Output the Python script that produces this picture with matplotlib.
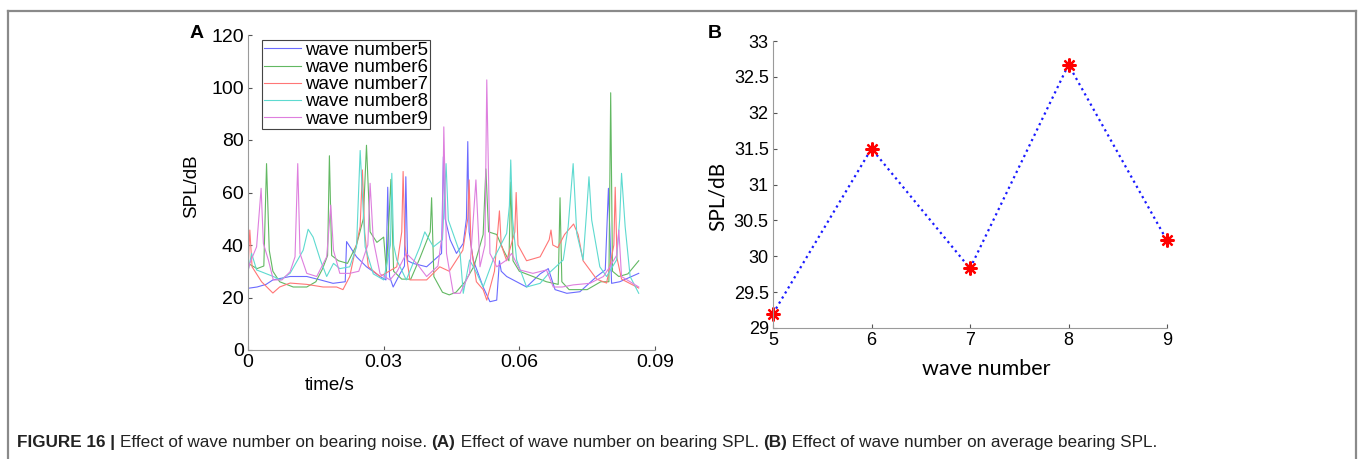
import numpy as np
import matplotlib
matplotlib.use('Agg')
import matplotlib.pyplot as plt
from matplotlib.lines import Line2D

plt.rcParams['font.family'] = ['Liberation Sans', 'DejaVu Sans']

# panel A: SPL over time for each wave number (time in ms, SPL in dB)
t5 = [0, 2, 4, 5.5, 9.3, 13, 16, 18.8, 21.5, 21.8, 24, 26.2, 29.2, 30.5, 30.9, 31.3, 32.1, 33.6, 34.6, 34.9,
      35.3, 36.5, 39.5, 42.8, 43.2, 43.6, 44.7, 46.1, 47.6, 48.3, 48.6, 48.9, 49.8, 52, 53.5, 55, 55.6, 56, 57.2,
      61.6, 64.6, 66.4, 67.9, 70.5, 73.4, 77.1, 79, 79.7, 80.4, 82.2, 86.4]
y5 = [23.5, 24, 25, 26.7, 28, 28, 26.7, 25.4, 26, 41.3, 35.5, 31.7, 28, 26.7, 62, 28, 24, 29, 32, 66,
      34, 33, 31.7, 36.8, 73.6, 50, 42, 36.8, 40.6, 50, 79.4, 45, 34.3, 24, 18.4, 19, 34, 30, 28,
      24, 29, 31, 23, 21.6, 22.2, 28, 30.5, 61.6, 25.4, 26, 29.2]

t6 = [0, 2, 3.5, 4.1, 4.7, 5.5, 7, 10, 13, 15, 16.5, 17.6, 18.0, 18.5, 20, 22, 24, 25.5, 26.2, 27.0,
      28.5, 30, 30.6, 31.6, 32.2, 34, 36, 38, 40.3, 40.6, 41.1, 43, 44.5, 46, 48, 50, 52, 52.6, 53.2, 55,
      56.5, 57.7, 58.1, 58.6, 60, 63, 66, 68.6, 69.0, 69.4, 71, 75, 78, 79.8, 80.2, 80.6, 82, 84, 86.4]
y6 = [33, 31, 32, 71, 38, 30, 26, 24, 24, 26, 31, 36, 74, 36, 34, 33, 40, 50, 78, 45,
      41, 43, 30, 65, 30, 27, 27, 35, 45, 58, 28, 22, 21, 22, 26, 32, 44, 69, 45, 44,
      38, 34, 64, 34, 30, 28, 26, 25, 58, 26, 23, 23, 26, 26, 98, 30, 28, 29, 34]

t7 = [0, 0.4, 0.9, 3, 5.5, 7, 9.3, 13, 16.6, 19.6, 21, 22.5, 24.8, 25.3, 25.8, 26.6, 29.2, 32.9, 34.0, 34.3,
      34.7, 35.8, 39.5, 42.4, 44.5, 47.5, 48.6, 48.9, 49.3, 50.5, 52, 52.8, 54.5, 55.6, 56, 57.2, 59.0, 59.3,
      59.7, 61.6, 64.6, 66.6, 67.0, 67.4, 68.5, 70, 72, 73, 74.1, 77.1, 79.3, 80.9, 81.2, 81.6, 82.6, 86.4]
y7 = [30, 45.7, 31.7, 26, 21.7, 24, 25.5, 25, 24, 24, 23, 28, 47, 68.6, 45, 31.7, 28, 31.7, 45, 68,
      40, 26.7, 26.7, 31.7, 30, 38, 50, 64.8, 40, 26, 23, 19, 30, 53, 40, 34, 45, 60,
      40, 34, 35.5, 42, 45.7, 40, 39, 44, 48, 44, 34, 27, 25.5, 40, 62, 35, 27, 23.6]

t8 = [0, 0.8, 1.9, 5.6, 7.1, 9.3, 12.2, 13.3, 14.4, 16, 17.4, 18.9, 20.3, 22.5, 24, 24.8, 25.9, 27.7, 30, 31.5,
      31.8, 32.2, 32.9, 35, 38, 39.1, 41, 43.0, 43.8, 44.3, 46.9, 47.6, 49, 50.6, 52, 54.2, 57.2, 57.8, 58.1, 58.5,
      59.4, 61.6, 64.6, 66.5, 69.7, 70.8, 71.9, 72.7, 74.1, 74.9, 75.4, 76, 77.8, 79.3, 81.5, 82.2, 82.6, 83.4,
      84.5, 86.4]
y8 = [30, 36.8, 30.5, 28, 26.7, 29.2, 38, 46, 43, 34.3, 28, 33, 31, 31.7, 39.3, 76, 39.3, 29, 26.7, 40,
      67.3, 40, 34.3, 26.7, 39.3, 45, 39.3, 42, 71, 49.5, 36.8, 21.6, 34.3, 29.2, 24, 34.3, 44.4, 55, 72.4, 50,
      34.3, 24, 25.4, 29.2, 34.3, 47, 71, 44.4, 34.3, 53.3, 66, 49.5, 31.7, 28, 34.3, 50, 67.3, 47,
      28, 21.6]

t9 = [0, 0.4, 1.9, 2.9, 3.4, 4.5, 5.6, 7.5, 9.3, 10.4, 11.0, 11.5, 13, 15.2, 17.4, 18.3, 18.9, 20.3, 22.5, 24.5,
      26.5, 27.0, 27.7, 29.2, 31.4, 33, 35, 37.3, 39.5, 42, 43.0, 43.3, 43.9, 45.4, 46.9, 49, 50.4, 51.3, 52.4,
      52.8, 53.5, 55, 57.2, 58.3, 60.1, 63, 66, 67.5, 69.5, 71.9, 75.6, 78.6, 80, 81.5, 82.0, 82.6, 86.4]
y9 = [30, 33, 39.3, 61.6, 40.6, 34.3, 26.7, 26.7, 29.8, 35.5, 71, 36.8, 29.2, 28, 35.5, 55.2, 38, 29.2, 29.2, 30,
      40, 63.5, 42, 29, 26.7, 30, 36.8, 33, 28, 32, 45, 85, 36.8, 21.6, 21.6, 29.2, 64.8, 31.7, 40,
      102.9, 36.8, 31.7, 34.3, 36.8, 30.5, 29.2, 30.5, 24, 24, 24.8, 25.4, 28, 31.7, 36, 45.7, 28, 24]

labels_a = ['wave number5', 'wave number6', 'wave number7', 'wave number8', 'wave number9']
colors_a = ['#6b6bff', '#62b862', '#ff7676', '#5edad0', '#de7fde']

# panel B: average SPL
wave_num = [5, 6, 7, 8, 9]
avg_spl = [29.2, 31.5, 29.83, 32.67, 30.22]

fig = plt.figure(figsize=(13.65, 4.59), dpi=100)
W, H = 1365, 459

def ax_rect(x0, y0, x1, y1):
    return [x0 / W, 1 - y1 / H, (x1 - x0) / W, (y1 - y0) / H]

gray = '#9a9a9a'

# ---- panel A
ax1 = fig.add_axes(ax_rect(248, 35, 655, 350))
series = [(t5, y5), (t6, y6), (t7, y7), (t8, y8), (t9, y9)]
for (t, y), lab, c in zip(series, labels_a, colors_a):
    ax1.plot(np.array(t) / 1000, y, color=c, lw=0.8, label=lab)
ax1.set_xlim(0, 0.09)
ax1.set_ylim(0, 120)
ax1.set_xticks([0, 0.03, 0.06, 0.09])
ax1.set_xticklabels(['0', '0.03', '0.06', '0.09'])
ax1.set_yticks(range(0, 121, 20))
for s in ['top', 'right']:
    ax1.spines[s].set_visible(False)
for s in ['left', 'bottom']:
    ax1.spines[s].set_color(gray)
ax1.tick_params(direction='in', length=3, color='#555555', labelsize=14, pad=3)
ax1.set_ylabel('SPL/dB', fontsize=13.5)
ax1.yaxis.set_label_coords(-0.118, 0.52)
ax1.set_xlabel('time/s', fontsize=13.5)
ax1.xaxis.set_label_coords(0.2, -0.085)
leg = ax1.legend(loc='upper left', bbox_to_anchor=(0.034, 0.984), borderaxespad=0,
                 fontsize=13.5, fancybox=False, framealpha=1, edgecolor='#444444',
                 labelspacing=0.0, handlelength=2.0, handletextpad=0.2, borderpad=0.1)
leg.get_frame().set_linewidth(0.8)
fig.text(197 / W, 1 - 33 / H, 'A', fontsize=14, fontweight='bold', ha='center', va='center')

# ---- panel B
ax2 = fig.add_axes(ax_rect(773, 41, 1167, 328))
ax2.plot(wave_num, avg_spl, color='#1a1aff', ls=':', lw=1.6,
         marker=(8, 2, 0), markersize=10, markeredgecolor='red', markeredgewidth=1.6, clip_on=False)
ax2.set_xlim(5, 9)
ax2.set_ylim(29, 33)
ax2.set_xticks(wave_num)
ytk = np.arange(29, 33.01, 0.5)
ax2.set_yticks(ytk)
ax2.set_yticklabels(['%g' % v for v in ytk])
for s in ['top', 'right']:
    ax2.spines[s].set_visible(False)
for s in ['left', 'bottom']:
    ax2.spines[s].set_color(gray)
ax2.tick_params(direction='in', length=3, color='#555555', labelsize=13, pad=3)
ax2.set_xlabel('wave number', fontsize=15.5, family=['Lato', 'DejaVu Sans'])
ax2.xaxis.set_label_coords(0.54, -0.108)
ax2.set_ylabel('SPL/dB', fontsize=15, family=['Lato', 'DejaVu Sans'])
ax2.yaxis.set_label_coords(-0.114, 0.46)
fig.text(715 / W, 1 - 33 / H, 'B', fontsize=14, fontweight='bold', ha='center', va='center')

# ---- frame around figure (no bottom edge)
bc = '#8a8a8a'
fig.add_artist(Line2D([8 / W, 8 / W], [0, 1 - 10.5 / H], color=bc, lw=1.6))
fig.add_artist(Line2D([8 / W, 1356 / W], [1 - 10.5 / H, 1 - 10.5 / H], color=bc, lw=1.6))
fig.add_artist(Line2D([1356 / W, 1356 / W], [0, 1 - 10.5 / H], color=bc, lw=1.6))

# ---- caption
cap = [('FIGURE 16 | ', 'bold'), ('Effect of wave number on bearing noise. ', 'normal'),
       ('(A)', 'bold'), (' Effect of wave number on bearing SPL. ', 'normal'),
       ('(B)', 'bold'), (' Effect of wave number on average bearing SPL.', 'normal')]
renderer = fig.canvas.get_renderer()
x = 17 / W
for txt, w in cap:
    t = fig.text(x, 1 - 442 / H, txt, fontsize=12.3, fontweight=w, va='center', ha='left',
                 color='#222222')
    bb = t.get_window_extent(renderer)
    x = bb.x1 / W

fig.savefig('out.png', dpi=100)
